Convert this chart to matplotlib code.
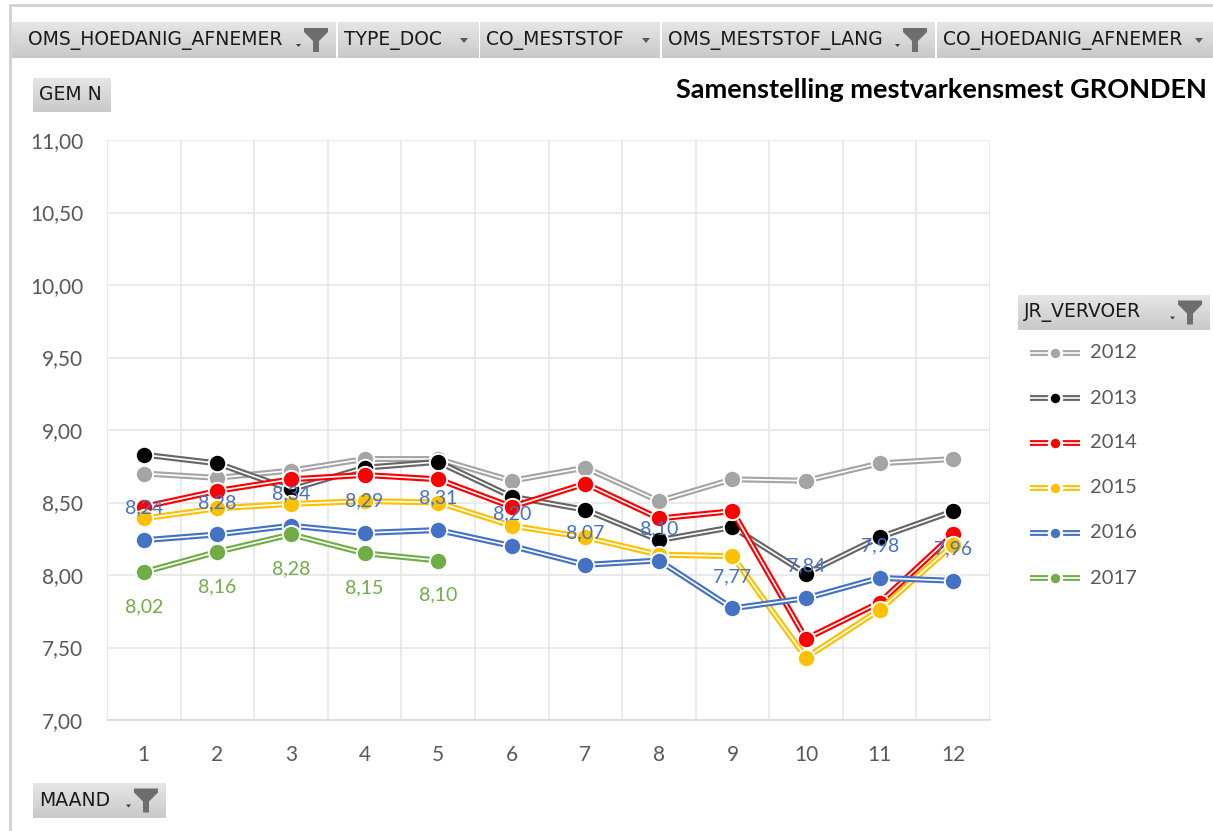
import numpy as np
import matplotlib
matplotlib.use("Agg")
import matplotlib.pyplot as plt
from matplotlib.lines import Line2D
from matplotlib.patches import Polygon, Rectangle
from matplotlib.ticker import FuncFormatter, MultipleLocator

# ── Data ──────────────────────────────────────────────────────────────────────
months = list(range(1, 13))
years = ["2012", "2013", "2014", "2015", "2016", "2017"]

gem_n_2012 = [8.70, 8.67, 8.72, 8.80, 8.80, 8.65, 8.74, 8.51, 8.66, 8.65, 8.77, 8.80]
gem_n_2013 = [8.83, 8.77, 8.59, 8.74, 8.78, 8.54, 8.45, 8.24, 8.33, 8.01, 8.26, 8.44]
gem_n_2014 = [8.47, 8.58, 8.66, 8.69, 8.66, 8.47, 8.63, 8.39, 8.44, 7.56, 7.81, 8.28]
gem_n_2015 = [8.39, 8.46, 8.49, 8.51, 8.50, 8.34, 8.26, 8.14, 8.13, 7.43, 7.76, 8.21]
gem_n_2016 = [8.24, 8.28, 8.34, 8.29, 8.31, 8.20, 8.07, 8.10, 7.77, 7.84, 7.98, 7.96]
gem_n_2017 = [8.02, 8.16, 8.28, 8.15, 8.10]

series = [gem_n_2012, gem_n_2013, gem_n_2014, gem_n_2015, gem_n_2016, gem_n_2017]
line_colors = ["#A5A5A5", "#666666", "#FF0000", "#FFC000", "#4472C4", "#70AD47"]
marker_colors = ["#A5A5A5", "#000000", "#FF0000", "#FFC000", "#4472C4", "#70AD47"]
# which series get data labels, and where (points offset)
label_offsets = {"2016": 23, "2017": -25}

TICK_GRAY = "#595959"
W, H = 1213, 831

plt.rcParams["font.family"] = ["Lato", "DejaVu Sans"]

fig = plt.figure(figsize=(W / 100, H / 100), dpi=100)


def fx(x):
    return x / W


def fy(y):
    return 1 - y / H


def poly(points, color, z=20):
    fig.patches.append(Polygon([(fx(x), fy(y)) for x, y in points], closed=True,
                               transform=fig.transFigure, fc=color, ec="none", zorder=z))


def arrow_icon(cx, cy):
    poly([(cx - 4, cy - 2), (cx + 4, cy - 2), (cx, cy + 3)], TICK_GRAY)


def filter_icon(right, cy):
    # funnel + small dropdown marker, right edge at `right`
    l = right - 24
    poly([(l, cy - 12), (right, cy - 12), (right, cy - 8), (right - 9, cy + 1),
          (right - 9, cy + 12), (l + 9, cy + 12), (l + 9, cy + 1), (l, cy - 8)], "#6E6E6E")
    poly([(l - 8, cy + 4), (l - 3, cy + 4), (l - 5.5, cy + 7)], "#404040")


def button(x0, x1, y0, y1, label, tx, icon=None):
    bax = fig.add_axes([fx(x0), fy(y1), fx(x1 - x0), (y1 - y0) / H], zorder=5)
    grad = np.linspace(0, 1, 64).reshape(-1, 1)
    bax.imshow(grad, aspect="auto", cmap=matplotlib.colors.LinearSegmentedColormap.from_list(
        "btn", ["#E6E6E6", "#C9C9C9"]), extent=[0, 1, 0, 1])
    bax.set_axis_off()
    cy = (y0 + y1) / 2
    fig.text(fx(tx), fy(cy), label, ha="left", va="center", fontsize=13.5,
             family="DejaVu Sans", color="#1A1A1A", zorder=10)
    if icon == "arrow":
        arrow_icon(x1 - 14, cy)
    elif icon == "filter":
        filter_icon(x1 - 8, cy)


# ── Chart area frame ─────────────────────────────────────────────────────────
fig.patches.append(Rectangle((fx(10), fy(H + 5)), 1.0, fy(5) - fy(H + 5),
                             transform=fig.transFigure, fc="none", ec="#D0D0D0",
                             lw=2, zorder=-1))

# ── Main plot ────────────────────────────────────────────────────────────────
ax = fig.add_axes([fx(107), fy(720), fx(990 - 107), (720 - 140) / H], zorder=2)
ax.patch.set_alpha(0)

for i, (yr, vals) in enumerate(zip(years, series)):
    xs = months[:len(vals)]
    z = 3 + 3 * i
    ax.plot(xs, vals, color=line_colors[i], lw=4.3, solid_capstyle="butt", zorder=z)
    ax.plot(xs, vals, color="white", lw=1.2, zorder=z + 0.5)
    ax.plot(xs, vals, ls="none", marker="o", ms=12.5, mfc=marker_colors[i],
            mec="white", mew=1.4, zorder=z + 1)
    if yr in label_offsets:
        for xv, v in zip(xs, vals):
            ax.annotate(f"{v:.2f}".replace(".", ","), (xv, v),
                        xytext=(0, label_offsets[yr]), textcoords="offset points",
                        ha="center", va="center", fontsize=14,
                        color=line_colors[i], zorder=40)

ax.set_xlim(0.5, 12.5)
ax.set_ylim(7, 11)
ax.yaxis.set_major_locator(MultipleLocator(0.5))
ax.yaxis.set_major_formatter(FuncFormatter(lambda v, p: f"{v:.2f}".replace(".", ",")))
ax.set_xticks(months)
ax.set_xticks(np.arange(0.5, 13, 1), minor=True)
ax.grid(axis="y", which="major", color="#E6E6E6", lw=1.2, zorder=0)
ax.grid(axis="x", which="minor", color="#E6E6E6", lw=1.2, zorder=0)
ax.tick_params(which="both", length=0, labelsize=15, labelcolor=TICK_GRAY)
ax.tick_params(axis="y", pad=17)
ax.tick_params(axis="x", pad=18)
for side in ["top", "right", "left"]:
    ax.spines[side].set_visible(False)
ax.spines["bottom"].set_color("#D9D9D9")
ax.spines["bottom"].set_linewidth(1.2)
ax.set_axisbelow(True)

# ── Title ────────────────────────────────────────────────────────────────────
fig.text(fx(1207), fy(90), "Samenstelling mestvarkensmest GRONDEN", ha="right",
         va="center", fontsize=19.5, fontweight="bold", color="black")

# ── Field buttons ────────────────────────────────────────────────────────────
button(12, 336, 22, 58, "OMS_HOEDANIG_AFNEMER", 28, "filter")
button(338, 478, 22, 58, "TYPE_DOC", 344, "arrow")
button(480, 660, 22, 58, "CO_MESTSTOF", 486, "arrow")
button(662, 935, 22, 58, "OMS_MESTSTOF_LANG", 668, "filter")
button(937, 1213, 22, 58, "CO_HOEDANIG_AFNEMER", 943, "arrow")
button(33, 111, 78, 112, "GEM N", 39)
button(33, 166, 783, 818, "MAAND", 39, "filter")
button(1018, 1210, 295, 330, "JR_VERVOER", 1024, "filter")

# ── Legend ───────────────────────────────────────────────────────────────────
for i, yr in enumerate(years):
    ly = 353 + 45 * i
    fig.add_artist(Line2D([fx(1030), fx(1080)], [fy(ly), fy(ly)], color=line_colors[i],
                          lw=4.2, solid_capstyle="butt", transform=fig.transFigure))
    fig.add_artist(Line2D([fx(1030), fx(1080)], [fy(ly), fy(ly)], color="white",
                          lw=1.2, transform=fig.transFigure))
    fig.add_artist(Line2D([fx(1055)], [fy(ly)], ls="none", marker="o", ms=9,
                          mfc=marker_colors[i], mec="white", mew=2.2,
                          transform=fig.transFigure))
    fig.text(fx(1090), fy(ly), yr, ha="left", va="center", fontsize=14.5, color=TICK_GRAY)

fig.savefig("out.png", dpi=100)
